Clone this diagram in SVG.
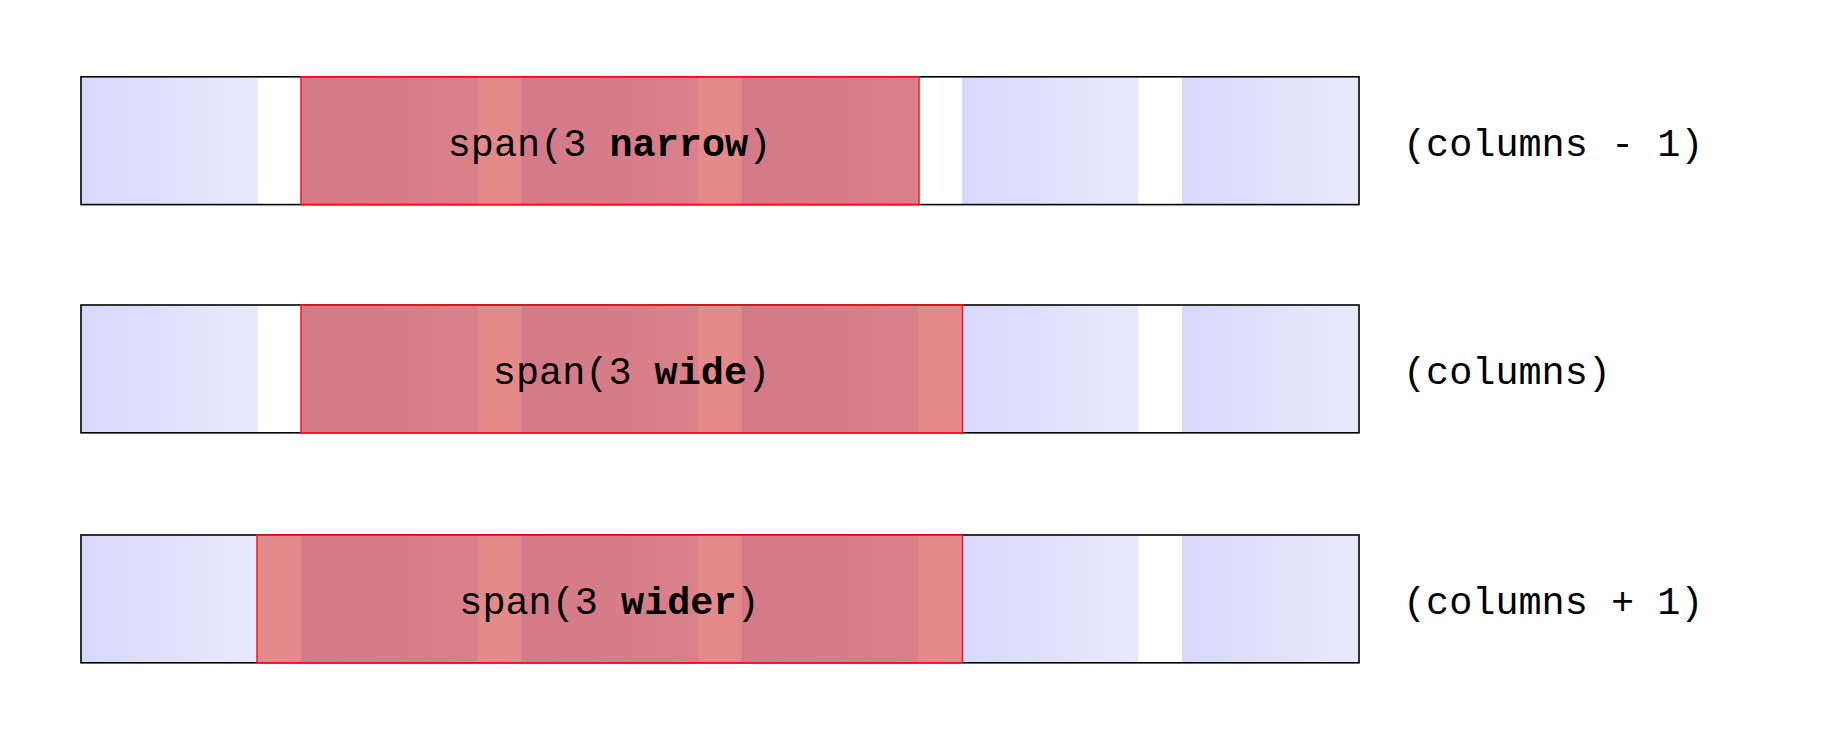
<svg xmlns="http://www.w3.org/2000/svg" width="1840" height="740" viewBox="0 0 1840 740">
<defs>
<linearGradient id="colgrad" x1="0" y1="0" x2="1" y2="0">
<stop offset="0" stop-color="#d8d8fd"/>
<stop offset="1" stop-color="#e9e9fd"/>
</linearGradient>
<style>
.col{fill:url(#colgrad);}
.frame{fill:none;stroke:#000;stroke-width:1.6;}
.span{fill:rgb(208,50,50);fill-opacity:0.57;stroke:#ff1122;stroke-width:1.5;}
.lbl{font-family:"Liberation Mono","Courier New",monospace;font-size:38.5px;fill:#000;}
.mid{text-anchor:middle;}
.b{font-weight:bold;}
</style>
</defs>
<rect width="1840" height="740" fill="#fff"/>

<g id="row1">
<rect class="col" x="81" y="77.5" width="176.8" height="126.5"/>
<rect class="col" x="301.2" y="77.5" width="176.8" height="126.5"/>
<rect class="col" x="521.4" y="77.5" width="176.8" height="126.5"/>
<rect class="col" x="741.6" y="77.5" width="176.8" height="126.5"/>
<rect class="col" x="961.8" y="77.5" width="176.8" height="126.5"/>
<rect class="col" x="1182" y="77.5" width="176.8" height="126.5"/>
<rect class="frame" x="81" y="76.8" width="1278" height="127.8"/>
<rect class="span" x="301" y="76.8" width="618" height="127.8"/>
<text class="lbl mid" x="609.5" y="156">span(3 <tspan class="b">narrow</tspan>)</text>
<text class="lbl" x="1403" y="156">(columns - 1)</text>
</g>

<g id="row2">
<rect class="col" x="81" y="305.7" width="176.8" height="126.5"/>
<rect class="col" x="301.2" y="305.7" width="176.8" height="126.5"/>
<rect class="col" x="521.4" y="305.7" width="176.8" height="126.5"/>
<rect class="col" x="741.6" y="305.7" width="176.8" height="126.5"/>
<rect class="col" x="961.8" y="305.7" width="176.8" height="126.5"/>
<rect class="col" x="1182" y="305.7" width="176.8" height="126.5"/>
<rect class="frame" x="81" y="305" width="1278" height="127.8"/>
<rect class="span" x="301" y="305" width="661.5" height="127.8"/>
<text class="lbl mid" x="631.5" y="384">span(3 <tspan class="b">wide</tspan>)</text>
<text class="lbl" x="1403" y="384">(columns)</text>
</g>

<g id="row3">
<rect class="col" x="81" y="535.7" width="176.8" height="126.5"/>
<rect class="col" x="301.2" y="535.7" width="176.8" height="126.5"/>
<rect class="col" x="521.4" y="535.7" width="176.8" height="126.5"/>
<rect class="col" x="741.6" y="535.7" width="176.8" height="126.5"/>
<rect class="col" x="961.8" y="535.7" width="176.8" height="126.5"/>
<rect class="col" x="1182" y="535.7" width="176.8" height="126.5"/>
<rect class="frame" x="81" y="535" width="1278" height="127.8"/>
<rect class="span" x="257" y="535" width="705.5" height="127.8"/>
<text class="lbl mid" x="609.5" y="614">span(3 <tspan class="b">wider</tspan>)</text>
<text class="lbl" x="1403" y="614">(columns + 1)</text>
</g>
<g id="connectors"/>
</svg>
